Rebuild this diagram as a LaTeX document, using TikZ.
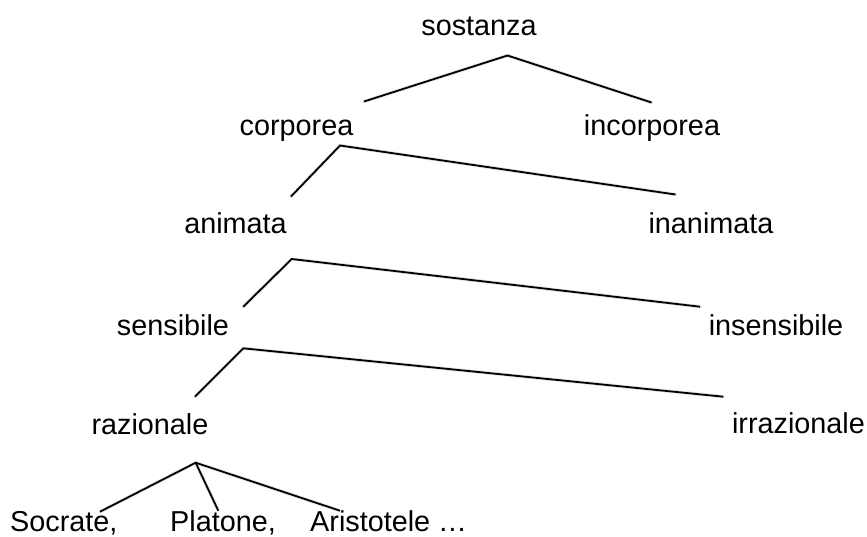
\documentclass[tikz,border=0pt]{standalone}
\usepackage{fontspec}
\setmainfont{Liberation Sans}
\begin{document}
\begin{tikzpicture}[x=1pt,y=-1pt,
  lbl/.style={inner sep=0pt,anchor=base,font=\fontsize{28.8}{34}\selectfont},
  lblw/.style={lbl,anchor=base west},
  branch/.style={line width=1.8pt,line join=miter,black},
  shade/.style={line width=3.5pt,black!10,line join=round,line cap=round}]
\useasboundingbox (0,0) rectangle (867,536);

% labels of the tree
\node[lbl] (sost)   at (479,35)    {sostanza};
\node[lbl] (corp)   at (296.5,135) {corporea};
\node[lbl] (incorp) at (652,135)   {incorporea};
\node[lbl] (anim)   at (235.5,233) {animata};
\node[lbl] (inanim) at (711,233)   {inanimata};
\node[lbl] (sens)   at (173,335)   {sensibile};
\node[lbl] (insens) at (776,335)   {insensibile};
\node[lbl] (raz)    at (150,434)   {razionale};
\node[lbl] (irraz)  at (798.5,433) {irrazionale};
\node[lblw] (socr)  at (10,531)    {Socrate,};
\node[lblw] (plat)  at (170,531)   {Platone,};
\node[lblw] (arist) at (310,531)   {Aristotele …};

% fork points and branch ends
\coordinate (f1) at (507.5,55.5);
\coordinate (f1l) at (364,101.5);
\coordinate (f1r) at (651.5,102.5);
\coordinate (f2) at (340,145.5);
\coordinate (f2l) at (291,196.5);
\coordinate (f2r) at (675.5,194.5);
\coordinate (f3) at (291.7,259);
\coordinate (f3l) at (243.3,306.7);
\coordinate (f3r) at (700,306.7);
\coordinate (f4) at (243.3,348.3);
\coordinate (f4l) at (195,396.7);
\coordinate (f4r) at (723.3,396.7);
\coordinate (f5) at (195.7,462.7);
\coordinate (f5a) at (100,511.7);
\coordinate (f5b) at (218.3,510.7);
\coordinate (f5c) at (340,510.7);

% soft drop shadow under the branches
\begin{scope}[shift={(1.5,3)}]
  \draw[shade] (f1l) -- (f1) -- (f1r);
  \draw[shade] (f2l) -- (f2) -- (f2r);
  \draw[shade] (f3l) -- (f3) -- (f3r);
  \draw[shade] (f4l) -- (f4) -- (f4r);
  \draw[shade] (f5a) -- (f5) -- (f5c);
  \draw[shade] (f5) -- (f5b);
\end{scope}

% branches
\draw[branch] (f1l) -- (f1) -- (f1r);
\draw[branch] (f2l) -- (f2) -- (f2r);
\draw[branch] (f3l) -- (f3) -- (f3r);
\draw[branch] (f4l) -- (f4) -- (f4r);
\draw[branch] (f5a) -- (f5) -- (f5c);
\draw[branch] (f5) -- (f5b);
\end{tikzpicture}
\end{document}
